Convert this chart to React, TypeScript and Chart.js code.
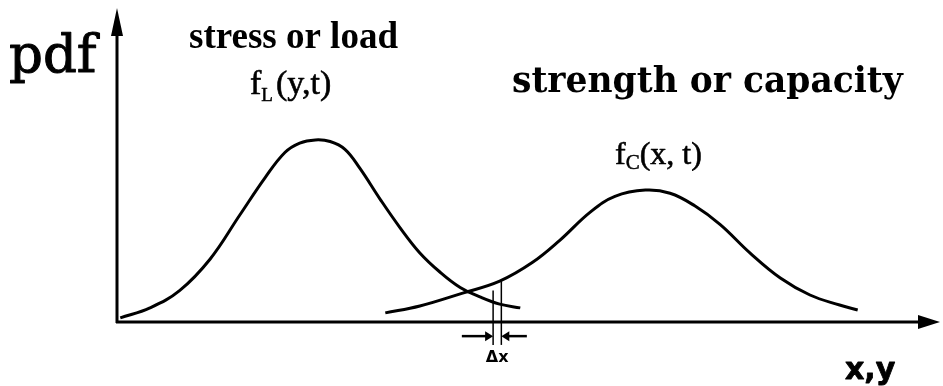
import React, { useEffect, useRef } from "react";
import { Chart, registerables } from "chart.js";

Chart.register(...registerables);

// Stress / load curve f_L(y,t)
const LOAD_X = [0.4, 4, 7.6, 11.3, 14.9, 18, 20.4, 22.2, 24.1, 25.9, 27.7, 29.5, 32, 34.4, 36.8, 39.2, 41.7, 44.1, 46.5, 49];
const LOAD_Y = [0.013, 0.045, 0.1, 0.2, 0.34, 0.46, 0.54, 0.57, 0.58, 0.575, 0.55, 0.49, 0.39, 0.3, 0.22, 0.16, 0.11, 0.08, 0.057, 0.045];

// Strength / capacity curve f_C(x,t)
const CAP_X = [32.6, 36.8, 42, 46.5, 50.5, 53.8, 57.5, 60.5, 64.2, 67.2, 70.2, 73.3, 76.9, 80.6, 84.2, 87.8, 90];
const CAP_Y = [0.029, 0.051, 0.092, 0.13, 0.19, 0.26, 0.35, 0.4, 0.42, 0.41, 0.37, 0.31, 0.22, 0.14, 0.086, 0.054, 0.038];

// Δx strip
const DELTA_X = [45.7, 46.7];
const DELTA_TOP = [0.1, 0.13];
const DELTA_BOTTOM = -0.073;
const ARROW_Y = -0.045;
const ARROW_TAILS = [41.9, 49.8];

const LABELS = {
  pdf: "pdf",
  load: "stress or load",
  capacity: "strength or capacity",
  axis: "x,y",
  delta: "Δx",
};

const toPoints = (xs: number[], ys: number[]) => xs.map((x, i) => ({ x, y: ys[i] }));

function heavyText(ctx: CanvasRenderingContext2D, text: string, x: number, y: number, w: number) {
  ctx.fillText(text, x, y);
  if (w > 0) {
    ctx.lineWidth = w;
    ctx.lineJoin = "round";
    ctx.strokeText(text, x, y);
  }
}

const diagramPlugin = {
  id: "diagram",
  afterDatasetsDraw(chart: any) {
    const ctx = chart.ctx as CanvasRenderingContext2D;
    const xs = chart.scales.x;
    const ys = chart.scales.y;
    const area = chart.chartArea;
    const x0 = area.left;
    const y0 = area.bottom;
    ctx.save();
    ctx.strokeStyle = "#000";
    ctx.fillStyle = "#000";
    ctx.lineCap = "butt";

    // y axis
    ctx.lineWidth = 3;
    ctx.beginPath();
    ctx.moveTo(x0, y0 + 1);
    ctx.lineTo(x0, area.top + 20);
    ctx.stroke();
    ctx.beginPath();
    ctx.moveTo(x0, area.top);
    ctx.lineTo(x0 - 6, area.top + 28);
    ctx.lineTo(x0 + 6, area.top + 28);
    ctx.closePath();
    ctx.fill();

    // x axis
    ctx.beginPath();
    ctx.moveTo(x0 - 1, y0);
    ctx.lineTo(area.right - 18, y0);
    ctx.stroke();
    ctx.beginPath();
    ctx.moveTo(area.right, y0);
    ctx.lineTo(area.right - 22, y0 - 7);
    ctx.lineTo(area.right - 22, y0 + 7);
    ctx.closePath();
    ctx.fill();

    // Δx strip lines
    ctx.lineWidth = 1.5;
    DELTA_X.forEach((dx, i) => {
      const px = xs.getPixelForValue(dx);
      ctx.beginPath();
      ctx.moveTo(px, ys.getPixelForValue(DELTA_TOP[i]));
      ctx.lineTo(px, ys.getPixelForValue(DELTA_BOTTOM));
      ctx.stroke();
    });
    // Arrows
    const ay = ys.getPixelForValue(ARROW_Y);
    ctx.lineWidth = 2.5;
    [0, 1].forEach((i) => {
      const tail = xs.getPixelForValue(ARROW_TAILS[i]);
      const head = xs.getPixelForValue(DELTA_X[i]);
      const dir = head > tail ? 1 : -1;
      ctx.beginPath();
      ctx.moveTo(tail, ay);
      ctx.lineTo(head - dir * 6, ay);
      ctx.stroke();
      ctx.beginPath();
      ctx.moveTo(head, ay);
      ctx.lineTo(head - dir * 8, ay - 5);
      ctx.lineTo(head - dir * 8, ay + 5);
      ctx.closePath();
      ctx.fill();
    });

    // Texts
    ctx.textBaseline = "alphabetic";
    ctx.textAlign = "left";
    ctx.font = "53px 'DejaVu Serif'";
    heavyText(ctx, LABELS.pdf, 9, 72, 1);

    ctx.font = "bold 37px 'Liberation Serif'";
    heavyText(ctx, LABELS.load, 189, 48, 0);

    ctx.font = "bold 34.5px 'DejaVu Serif'";
    heavyText(ctx, LABELS.capacity, 512, 92, 0);

    // f_L(y,t)
    ctx.font = "34px 'Liberation Serif'";
    let cx = 250;
    heavyText(ctx, "f", cx, 94, 0.6);
    cx += ctx.measureText("f").width;
    ctx.font = "19px 'Liberation Serif'";
    heavyText(ctx, "L", cx, 101, 0.5);
    cx += ctx.measureText("L").width + 3;
    ctx.font = "34px 'Liberation Serif'";
    heavyText(ctx, "(y,t)", cx, 94, 0.6);

    // f_C(x, t)
    ctx.font = "32px 'Liberation Serif'";
    cx = 615;
    heavyText(ctx, "f", cx, 164, 0.6);
    cx += ctx.measureText("f").width;
    ctx.font = "21px 'Liberation Serif'";
    heavyText(ctx, "C", cx, 169, 0.5);
    cx += ctx.measureText("C").width;
    ctx.font = "32px 'Liberation Serif'";
    heavyText(ctx, "(x, t)", cx, 164, 0.6);

    ctx.font = "bold 30px 'DejaVu Sans'";
    heavyText(ctx, LABELS.axis, 845, 379, 0.8);

    ctx.font = "bold 16px 'DejaVu Sans'";
    ctx.textAlign = "center";
    heavyText(ctx, LABELS.delta, (xs.getPixelForValue(DELTA_X[0]) + xs.getPixelForValue(DELTA_X[1])) / 2, 362, 0);
    ctx.restore();
  },
};

export default function App() {
  const ref = useRef<HTMLCanvasElement | null>(null);
  useEffect(() => {
    document.body.style.margin = "0";
    if (!ref.current) return;
    const chart = new Chart(ref.current, {
      type: "line",
      data: {
        datasets: [
          {
            data: toPoints(LOAD_X, LOAD_Y),
            borderColor: "#000",
            borderWidth: 3,
            pointRadius: 0,
            tension: 0.4,
            fill: false,
          },
          {
            data: toPoints(CAP_X, CAP_Y),
            borderColor: "#000",
            borderWidth: 3,
            pointRadius: 0,
            tension: 0.4,
            fill: false,
          },
        ],
      },
      options: {
        animation: false,
        responsive: true,
        maintainAspectRatio: false,
        layout: { padding: { left: 117, top: 8, right: 3, bottom: 64 } },
        scales: {
          x: { type: "linear", min: 0, max: 100, display: false },
          y: { type: "linear", min: 0, max: 1, display: false },
        },
        plugins: { legend: { display: false }, tooltip: { enabled: false } },
      },
      plugins: [diagramPlugin],
    });
    return () => chart.destroy();
  }, []);
  return (
    <div style={{ width: 943, height: 386, position: "relative", background: "#fff" }}>
      <canvas ref={ref} />
    </div>
  );
}
